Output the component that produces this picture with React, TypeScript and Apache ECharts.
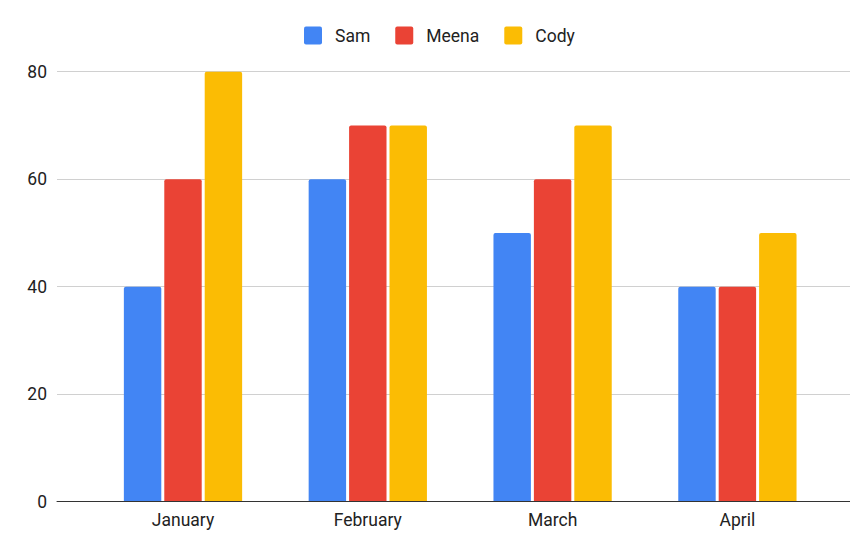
import React, { useEffect, useRef } from "react";
import * as echarts from "echarts";

const categories = ["January", "February", "March", "April"];
const samValues = [40, 60, 50, 40];
const meenaValues = [60, 70, 60, 40];
const codyValues = [80, 70, 70, 50];
const yTicks = { min: 0, max: 80, interval: 20 };

const FONT = "Roboto, Arial, sans-serif";

export default function App() {
  const ref = useRef<HTMLDivElement>(null);
  useEffect(() => {
    if (!ref.current) return;
    const chart = echarts.init(ref.current, undefined, { renderer: "svg" });
    const barStyle = (color: string) => ({ color, borderRadius: [2, 2, 0, 0] });
    chart.setOption({
      animation: false,
      backgroundColor: "#ffffff",
      textStyle: { fontFamily: FONT },
      legend: {
        top: 21.5,
        left: 299,
        itemWidth: 18,
        itemHeight: 18,
        itemGap: 25,
        icon: "path://M2,0 L16,0 Q18,0 18,2 L18,16 Q18,18 16,18 L2,18 Q0,18 0,16 L0,2 Q0,0 2,0 Z",
        textStyle: { fontSize: 17.5, color: "#222", fontFamily: FONT, padding: [0, 0, 0, 8] },
        data: ["Sam", "Meena", "Cody"],
      },
      grid: [
        { left: 57, right: 0, top: 71.7, bottom: 41.3 },
        { left: 90.6, right: 20.2, top: 71.7, bottom: 41.3 },
      ],
      xAxis: [
        {
          gridIndex: 0,
          type: "value",
          min: 0,
          max: 1,
          z: 10,
          axisLine: { show: true, lineStyle: { color: "#333", width: 1 } },
          axisTick: { show: false },
          axisLabel: { show: false },
          splitLine: { show: false },
        },
        {
          gridIndex: 1,
          type: "category",
          data: categories,
          axisLine: { show: false },
          axisTick: { show: false },
          axisLabel: { fontSize: 17.5, color: "#222", margin: 9, fontFamily: FONT },
        },
      ],
      yAxis: [
        {
          gridIndex: 0,
          type: "value",
          min: yTicks.min,
          max: yTicks.max,
          interval: yTicks.interval,
          axisLine: { show: false },
          axisTick: { show: false },
          axisLabel: { fontSize: 17.5, color: "#222", margin: 10, fontFamily: FONT },
          splitLine: { lineStyle: { color: "#d0d0d0", width: 1 } },
        },
        {
          gridIndex: 1,
          type: "value",
          min: yTicks.min,
          max: yTicks.max,
          interval: yTicks.interval,
          show: false,
          splitLine: { show: false },
        },
      ],
      series: [
        {
          name: "Sam",
          type: "bar",
          xAxisIndex: 1,
          yAxisIndex: 1,
          data: samValues,
          itemStyle: barStyle("#4285F4"),
          barGap: "8%",
          barCategoryGap: "36%",
        },
        {
          name: "Meena",
          type: "bar",
          xAxisIndex: 1,
          yAxisIndex: 1,
          data: meenaValues,
          itemStyle: barStyle("#EA4335"),
          barGap: "8%",
          barCategoryGap: "36%",
        },
        {
          name: "Cody",
          type: "bar",
          xAxisIndex: 1,
          yAxisIndex: 1,
          data: codyValues,
          itemStyle: barStyle("#FBBC04"),
          barGap: "8%",
          barCategoryGap: "36%",
        },
      ],
    });
    return () => chart.dispose();
  }, []);
  return (
    <div
      ref={ref}
      style={{ position: "fixed", left: 0, top: 0, width: 850, height: 543, background: "#fff" }}
    />
  );
}
